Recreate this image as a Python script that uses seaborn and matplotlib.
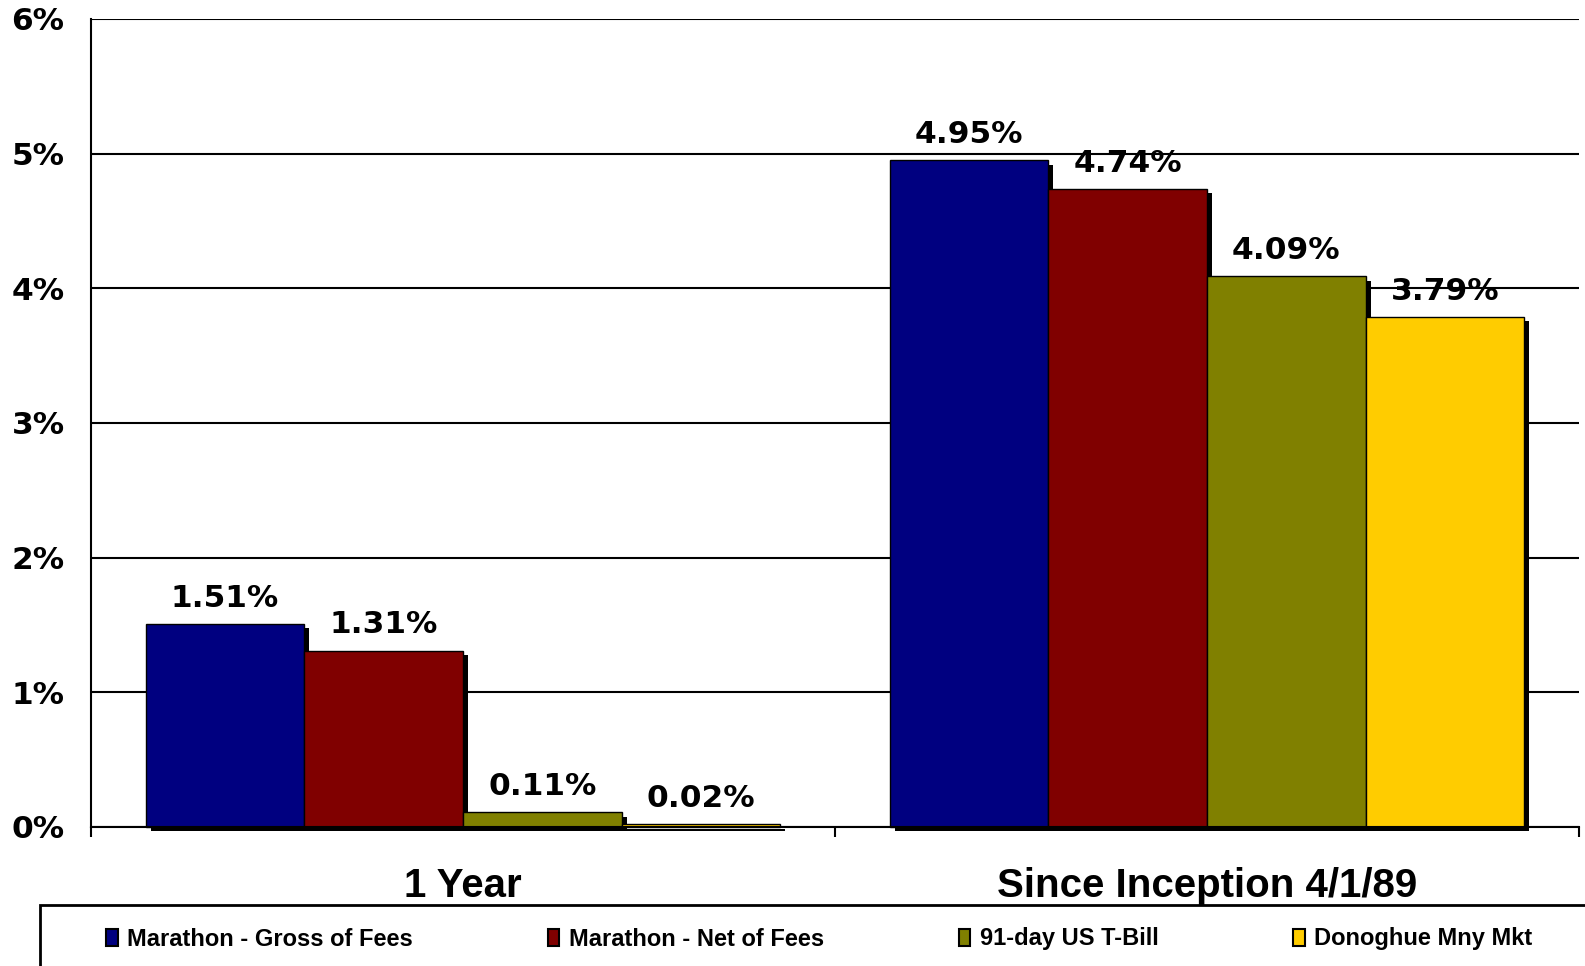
import matplotlib
matplotlib.use("Agg")
import matplotlib.pyplot as plt
import matplotlib.patheffects as pe
from matplotlib.patches import Patch, Rectangle
import seaborn as sns
import pandas as pd

periods = ["1 Year", "Since Inception 4/1/89"]
series = ["Marathon - Gross of Fees", "Marathon - Net of Fees", "91-day US T-Bill", "Donoghue Mny Mkt"]
gross = [1.51, 4.95]
net = [1.31, 4.74]
tbill = [0.11, 4.09]
donoghue = [0.02, 3.79]
colors = ["#000080", "#800000", "#808000", "#FFCC00"]


def make_chart():
    rows = []
    for name, vals in zip(series, [gross, net, tbill, donoghue]):
        for p, v in zip(periods, vals):
            rows.append({"period": p, "series": name, "value": v})
    df = pd.DataFrame(rows)

    sns.set_style("white")
    plt.rcParams.update({"text.color": "black", "axes.labelcolor": "black",
                         "xtick.color": "black", "ytick.color": "black"})
    W, H = 1585, 966
    fig = plt.figure(figsize=(W / 100, H / 100), dpi=100)
    ax = fig.add_axes([91 / W, 1 - 827 / H, (1579 - 91) / W, (827 - 19) / H])

    sns.barplot(data=df, x="period", y="value", hue="series", hue_order=series,
                palette=colors, width=0.853, edgecolor="black", linewidth=1,
                saturation=1, legend=False, ax=ax)

    shadow = [pe.SimplePatchShadow(offset=(3.6, -3.2), shadow_rgbFace="black", alpha=1), pe.Normal()]
    for cont, vals in zip(ax.containers, [gross, net, tbill, donoghue]):
        for bar in cont:
            bar.set_path_effects(shadow)
            bar.set_clip_on(False)
        ax.bar_label(cont, labels=[f"{v:.2f}%" for v in vals], padding=8,
                     fontsize=22.5, fontweight="bold", family="DejaVu Sans", color="black")

    # axes cosmetics
    ax.set_ylim(0, 6)
    ax.set_xlim(-0.5, 1.5)
    ax.set_yticks(range(0, 7))
    ax.set_yticklabels([f"{i}%" for i in range(0, 7)], fontsize=22.5, fontweight="bold", family="DejaVu Sans")
    ax.yaxis.grid(True, color="black", linewidth=1.5)
    ax.set_axisbelow(True)
    ax.tick_params(axis="y", length=7, width=1.5, pad=12, color="black")
    ax.set_xticks([-0.5, 0.5, 1.5], minor=True)
    ax.tick_params(axis="x", which="minor", length=7, width=1.5, color="black", bottom=True)
    ax.tick_params(axis="x", which="major", length=0, pad=29)
    for lab in ax.get_xticklabels():
        lab.set_fontsize(29)
        lab.set_fontweight("bold")
        lab.set_family("Liberation Sans")
    ax.set_xlabel("")
    ax.set_ylabel("")
    for s in ["top", "right"]:
        ax.spines[s].set_visible(False)
    for s in ["left", "bottom"]:
        ax.spines[s].set_color("black")
        ax.spines[s].set_linewidth(1.5)

    # legend box (runs off the right and bottom edges)
    fig.patches.append(Rectangle((40 / W, -0.5), 2, 0.5 + 1 - 905 / H,
                                 transform=fig.transFigure, fill=False,
                                 edgecolor="black", linewidth=2))
    handles = [Patch(facecolor=c, edgecolor="black", linewidth=1.5) for c in colors]
    fig.legend(handles, series, loc="center left", bbox_to_anchor=(106 / W, 1 - 939 / H),
               ncol=4, frameon=False, columnspacing=5.7, handletextpad=0.4,
               handlelength=0.5, handleheight=0.75, borderpad=0, borderaxespad=0,
               prop={"family": "Liberation Sans", "weight": "bold", "size": 17})

    plt.savefig("out.png", dpi=100)
    return


make_chart()
